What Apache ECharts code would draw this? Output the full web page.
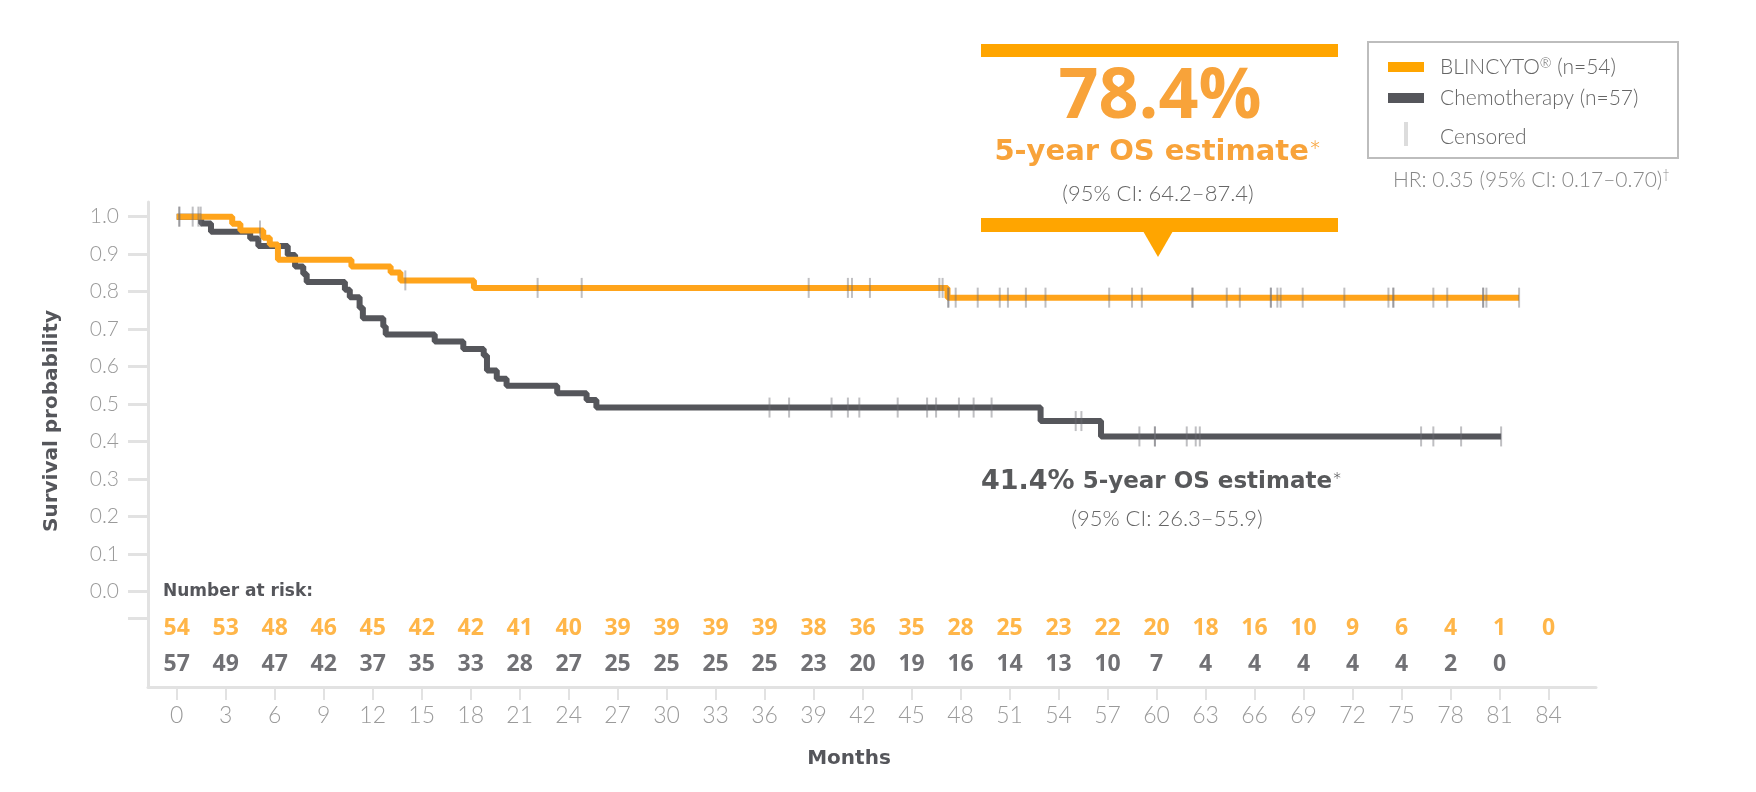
<!DOCTYPE html>
<html>
<head>
<meta charset="utf-8">
<script src="https://cdn.jsdelivr.net/npm/echarts@6/dist/echarts.min.js"></script>
<style>
  html, body { margin: 0; padding: 0; background: #fff; }
  #main { width: 1756px; height: 792px; }
</style>
</head>
<body>
<div id="main"></div>
<script>
// KM steps: [month, survival after step]
var blincytoSteps = [[0, 1], [3.4, 0.981], [3.9, 0.963], [5.3, 0.944], [5.7, 0.926], [6.2, 0.885],
  [10.7, 0.867], [13.1, 0.851], [13.7, 0.830], [18.2, 0.810], [47.2, 0.784]];
var blincytoEnd = 82.2;
var chemoSteps = [[0, 1], [1.5, 0.982], [2.1, 0.960], [4.5, 0.942], [5.0, 0.922], [6.8, 0.898],
  [7.25, 0.867], [7.75, 0.847], [7.96, 0.826], [10.3, 0.805], [10.6, 0.785], [11.2, 0.757],
  [11.4, 0.729], [12.65, 0.707], [12.8, 0.686], [15.8, 0.667], [17.55, 0.647], [18.8, 0.630],
  [19.0, 0.590], [19.6, 0.568], [20.2, 0.549], [23.3, 0.529], [25.1, 0.511], [25.7, 0.491],
  [52.9, 0.455], [56.6, 0.414]];
var chemoEnd = 81.1;

// censored times (repeated entries = overlapping marks)
var blincytoCensored = [0.98, 1.33, 1.47, 5.1, 14.0, 22.1, 24.8, 38.7, 41.1, 41.35, 42.45, 46.7, 46.9,
  47.25, 47.25, 47.7, 49.05, 50.4, 50.9, 52.0, 53.2, 57.1, 58.5, 59.1, 62.2, 62.2, 64.3, 65.1, 67.0, 67.0,
  67.4, 67.6, 68.95, 71.5, 74.2, 74.5, 74.5, 76.95, 77.8, 80.0, 80.0, 80.2, 82.2];
var chemoCensored = [0.16, 0.16, 36.3, 37.5, 40.1, 41.1, 41.8, 44.15, 45.95, 46.5, 47.9, 48.8, 49.9,
  55.05, 55.4, 58.95, 59.9, 59.9, 61.85, 62.4, 62.65, 76.2, 76.95, 78.65, 81.1];

// number at risk
var riskMonths = [0, 3, 6, 9, 12, 15, 18, 21, 24, 27, 30, 33, 36, 39, 42, 45, 48, 51, 54, 57, 60, 63, 66, 69, 72, 75, 78, 81, 84];
var blincytoRisk = [54, 53, 48, 46, 45, 42, 42, 41, 40, 39, 39, 39, 39, 38, 36, 35, 28, 25, 23, 22, 20, 18, 16, 10, 9, 6, 4, 1, 0];
var chemoRisk = [57, 49, 47, 42, 37, 35, 33, 28, 27, 25, 25, 25, 25, 23, 20, 19, 16, 14, 13, 10, 7, 4, 4, 4, 4, 4, 2, 0];

var yTicks = [0, 0.1, 0.2, 0.3, 0.4, 0.5, 0.6, 0.7, 0.8, 0.9, 1.0];

var ORANGE = '#FFA41B';
var GREY = '#55565B';
var FONT = 'Lato, "Noto Sans", sans-serif';
var WIDE = '"DejaVu Sans", sans-serif';
var OPEN = '"Open Sans", sans-serif';

function lineData(steps, end) {
  var d = steps.slice();
  d.push([end, steps[steps.length - 1][1]]);
  return d;
}
function valueAt(steps, t) {
  var v = steps[0][1];
  steps.forEach(function (s) { if (s[0] <= t) v = s[1]; });
  return v;
}
function censorData(steps, times) {
  return times.map(function (t) { return [t, valueAt(steps, t)]; });
}
function riskData(counts, row) {
  return counts.map(function (n, i) { return [riskMonths[i], row, n]; });
}

var myChart = echarts.init(document.getElementById('main'));

var riskLabel = function (color) {
  return {
    show: true, position: 'inside', color: color,
    fontFamily: OPEN, fontWeight: 'bold', fontSize: 23,
    formatter: function (p) { return p.value[2]; }
  };
};

myChart.setOption({
  animation: false,
  grid: { left: 148, right: 160, top: 202, bottom: 105 },
  xAxis: {
    type: 'value', min: -1.757, max: 86.91,
    splitLine: { show: false },
    axisLine: { onZero: false, lineStyle: { color: '#e2e2e2', width: 3 } },
    axisTick: { customValues: riskMonths, length: 13, lineStyle: { color: '#e2e2e2', width: 2 } },
    axisLabel: { customValues: riskMonths, color: '#9a9a9a', fontFamily: FONT, fontWeight: 300, fontSize: 23, margin: 17 }
  },
  yAxis: {
    type: 'value', min: -0.254, max: 1.039,
    splitLine: { show: false },
    axisLine: { show: true, onZero: false, lineStyle: { color: '#e2e2e2', width: 3 } },
    axisTick: { customValues: [-0.07].concat(yTicks), length: 20, lineStyle: { color: '#e2e2e2', width: 3 } },
    axisLabel: {
      customValues: yTicks, color: '#9a9a9a', fontFamily: FONT, fontWeight: 300, fontSize: 21, margin: 29,
      formatter: function (v) { return v.toFixed(1); }
    }
  },
  series: [
    {
      name: 'Chemotherapy', type: 'line', step: 'end', symbol: 'none', z: 2,
      data: lineData(chemoSteps, chemoEnd),
      lineStyle: { color: GREY, width: 6 }
    },
    {
      name: 'BLINCYTO', type: 'line', step: 'end', symbol: 'none', z: 3,
      data: lineData(blincytoSteps, blincytoEnd),
      lineStyle: { color: ORANGE, width: 6 }
    },
    {
      name: 'Censored chemo', type: 'scatter', symbol: 'rect', symbolSize: [2, 20], z: 4,
      data: censorData(chemoSteps, chemoCensored),
      itemStyle: { color: 'rgba(110,110,115,0.55)' }
    },
    {
      name: 'Censored blincyto', type: 'scatter', symbol: 'rect', symbolSize: [2, 20], z: 4,
      data: censorData(blincytoSteps, blincytoCensored),
      itemStyle: { color: 'rgba(110,110,115,0.55)' }
    },
    {
      name: 'Risk blincyto', type: 'scatter', symbolSize: 1, z: 5,
      data: riskData(blincytoRisk, -0.097),
      itemStyle: { color: 'rgba(0,0,0,0)' },
      label: riskLabel(ORANGE)
    },
    {
      name: 'Risk chemo', type: 'scatter', symbolSize: 1, z: 5,
      data: riskData(chemoRisk, -0.193),
      itemStyle: { color: 'rgba(0,0,0,0)' },
      label: riskLabel('#4d4e53')
    }
  ],
  graphic: [
    // axis titles
    { type: 'text', x: 52, y: 421, rotation: Math.PI / 2,
      style: { text: 'Survival probability', font: 'bold 20px ' + WIDE, fill: '#55565B', textAlign: 'center', textVerticalAlign: 'middle' } },
    { type: 'text', x: 849, y: 759,
      style: { text: 'Months', font: 'bold 20px ' + WIDE, fill: '#55565B', textAlign: 'center', textVerticalAlign: 'middle' } },
    { type: 'text', x: 163, y: 592,
      style: { text: 'Number at risk:', font: 'bold 17px ' + WIDE, fill: '#55565B', textAlign: 'left', textVerticalAlign: 'middle' } },

    // orange callout
    { type: 'rect', shape: { x: 981, y: 44, width: 357, height: 13 }, style: { fill: '#FFA500' } },
    { type: 'rect', shape: { x: 981, y: 218, width: 357, height: 14 }, style: { fill: '#FFA500' } },
    { type: 'polygon', shape: { points: [[1143, 231], [1173, 231], [1158, 257]] }, style: { fill: '#FFA500' } },
    { type: 'text', x: 1160, y: 98,
      style: { text: '78.4%', font: 'bold 70px ' + OPEN, fill: '#F8A33A', textAlign: 'center', textVerticalAlign: 'middle' } },
    { type: 'text', x: 1158, y: 152,
      style: {
        text: '{b|5-year OS estimate}{s|*}', textAlign: 'center', textVerticalAlign: 'middle',
        rich: {
          b: { font: 'bold 29px ' + WIDE, fill: '#F8A33A', color: '#F8A33A' },
          s: { font: '300 30px ' + FONT, fill: '#F8A33A', color: '#F8A33A' }
        }
      } },
    { type: 'text', x: 1158, y: 194,
      style: { text: '(95% CI: 64.2\u201387.4)', font: '300 22px ' + FONT, fill: '#666', textAlign: 'center', textVerticalAlign: 'middle' } },

    // grey annotation
    { type: 'text', x: 981, y: 482,
      style: {
        text: '{a|41.4%}{b| 5-year OS estimate}{s|*}', textAlign: 'left', textVerticalAlign: 'middle',
        rich: {
          a: { font: 'bold 27px ' + WIDE, fill: '#58595B', color: '#58595B' },
          b: { font: 'bold 23px ' + WIDE, fill: '#58595B', color: '#58595B' },
          s: { font: '300 24px ' + FONT, fill: '#58595B', color: '#58595B' }
        }
      } },
    { type: 'text', x: 1167, y: 519,
      style: { text: '(95% CI: 26.3\u201355.9)', font: '300 22px ' + FONT, fill: '#666', textAlign: 'center', textVerticalAlign: 'middle' } },

    // legend
    { type: 'rect', shape: { x: 1368, y: 42, width: 310, height: 116 }, style: { fill: 'none', stroke: '#bdbdbd', lineWidth: 2 } },
    { type: 'rect', shape: { x: 1388, y: 62, width: 36, height: 10 }, style: { fill: '#FFA500' } },
    { type: 'rect', shape: { x: 1388, y: 93, width: 36, height: 10 }, style: { fill: GREY } },
    { type: 'rect', shape: { x: 1404, y: 122, width: 4, height: 24 }, style: { fill: '#dcdcdc' } },
    { type: 'text', x: 1440, y: 67,
      style: {
        text: 'BLINCYTO{r|\u00AE} (n=54)', font: '300 21px ' + FONT, fill: '#666', textAlign: 'left', textVerticalAlign: 'middle',
        rich: { r: { font: '300 14px ' + FONT, fill: '#666', color: '#666', verticalAlign: 'top', padding: [0, 0, 8, 0] } }
      } },
    { type: 'text', x: 1440, y: 98,
      style: { text: 'Chemotherapy (n=57)', font: '300 21px ' + FONT, fill: '#666', textAlign: 'left', textVerticalAlign: 'middle' } },
    { type: 'text', x: 1440, y: 137,
      style: { text: 'Censored', font: '300 21px ' + FONT, fill: '#666', textAlign: 'left', textVerticalAlign: 'middle' } },
    { type: 'text', x: 1393, y: 180,
      style: {
        text: 'HR: 0.35 (95% CI: 0.17\u20130.70){d|\u2020}', font: '300 21px ' + FONT, fill: '#888', textAlign: 'left', textVerticalAlign: 'middle',
        rich: { d: { font: '300 13px ' + FONT, fill: '#888', color: '#888', padding: [0, 0, 10, 0] } }
      } }
  ]
});
</script>
</body>
</html>
